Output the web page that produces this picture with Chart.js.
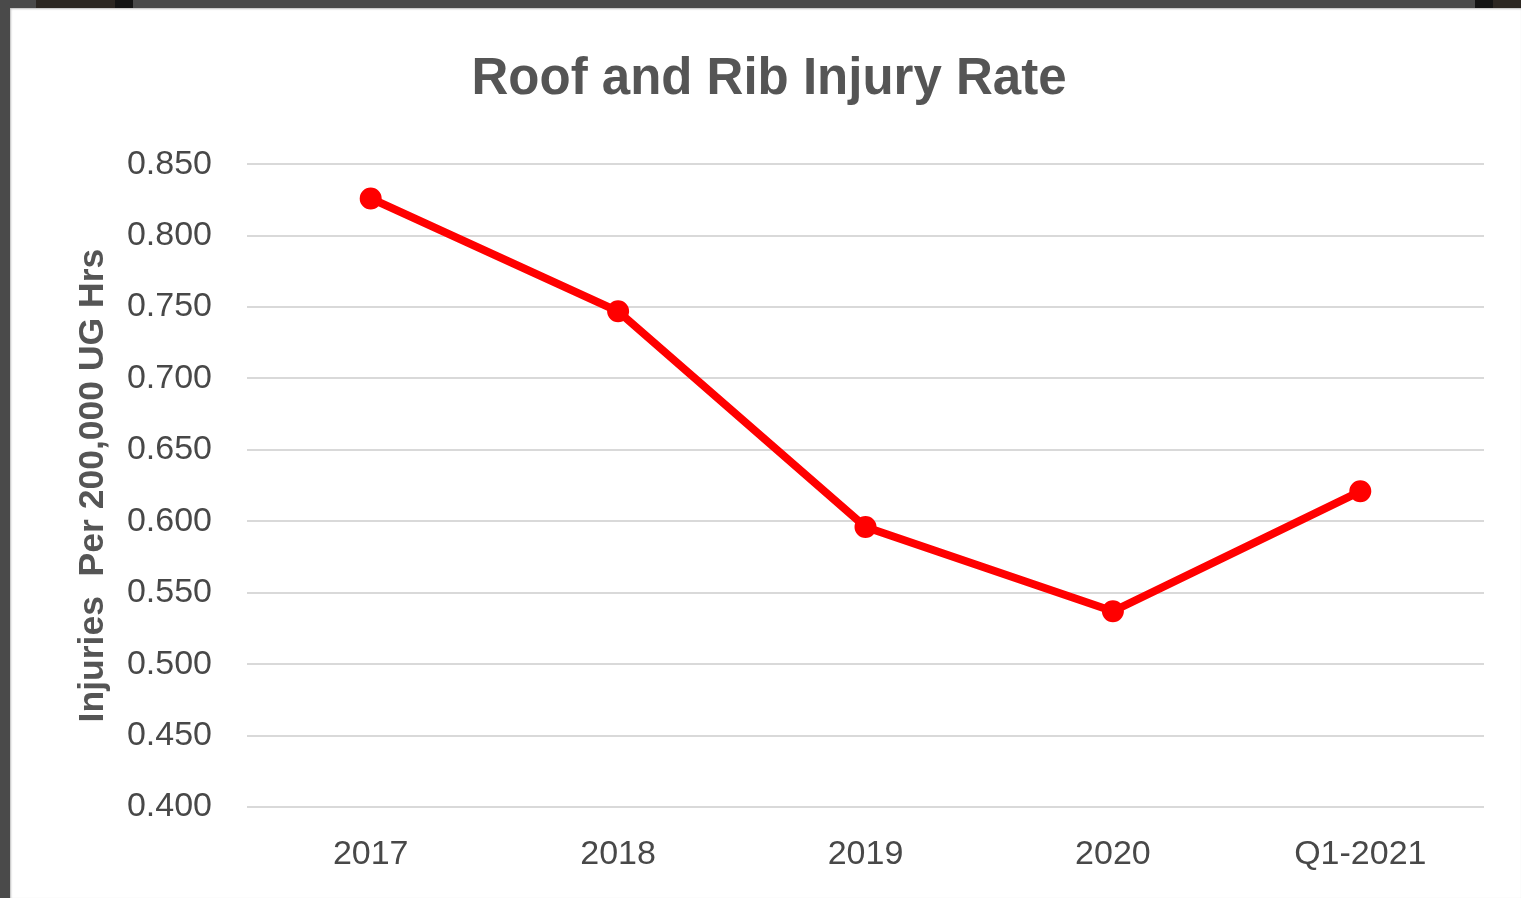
<!DOCTYPE html>
<html>
<head>
	<meta charset="utf-8">
	<script src="https://cdn.jsdelivr.net/npm/chart.js@4.4.1/dist/chart.umd.min.js"></script>
	<style>
		body{margin:0;width:1521px;height:898px;overflow:hidden;background-color:#4a4a4a;position:relative;}
		#frameA{position:absolute;left:36px;top:0;width:80px;height:8px;background-color:#2c2722;}
		#frameB{position:absolute;left:115px;top:0;width:18px;height:8px;background-color:#141414;}
		#frameC{position:absolute;left:1475px;top:0;width:18px;height:8px;background-color:#141414;}
		#frameD{position:absolute;left:1493px;top:0;width:28px;height:8px;background-color:#2c2722;}
		#paper{position:absolute;left:10px;top:8px;width:1511px;height:890px;background-color:#fff;box-shadow:inset 1px 1px 2px #bbb;}
	</style>
</head>
<body>
	<div id="frameA"></div>
	<div id="frameB"></div>
	<div id="frameC"></div>
	<div id="frameD"></div>
	<div id="paper">
		<canvas id="lineChart" width="1511" height="890"></canvas>
	</div>
<script>
	var years = ["2017","2018","2019","2020","Q1-2021"];
	var injuryRate = [0.826,0.747,0.596,0.537,0.621];
	var yMin = 0.4;
	var yMax = 0.85;
	var yStep = 0.05;

	var fontName = "'Liberation Sans', Arial, sans-serif";
	var textColor = "#555555";
	var tickColor = "#484848";
	var gridColor = "#d9d9d9";

	var target = document.querySelector("#lineChart").getContext("2d");
	var lineChart = new Chart(target,{
		type : "line",
		data : {
			labels:years,
			datasets:[{
				label:"Roof and Rib Injury Rate",
				data:injuryRate,
				borderColor:"#ff0000",
				backgroundColor:"#ff0000",
				borderWidth:8,
				pointRadius:10,
				pointBorderWidth:2,
				pointBackgroundColor:"#ff0000",
				pointBorderColor:"#ff0000",
				tension:0,
				fill:false
			}]
		},
		options : {
			responsive:false,
			animation:false,
			layout:{padding:{left:44,right:37,top:0,bottom:0}},
			plugins:{
				legend:{display:false},
				tooltip:{enabled:false},
				title:{
					display:true,
					text:"Roof and Rib Injury Rate",
					color:textColor,
					font:{family:fontName,size:51,weight:"bold",lineHeight:1.2},
					padding:{top:41,bottom:54}
				}
			},
			scales:{
				x:{
					offset:true,
					grid:{display:false,drawTicks:false},
					border:{display:false},
					ticks:{color:tickColor,padding:27,font:{family:fontName,size:34}},
					afterFit:function(scale){scale.height = 91;}
				},
				y:{
					min:yMin,
					max:yMax,
					grid:{color:gridColor,lineWidth:2,drawTicks:false},
					border:{display:false},
					ticks:{
						stepSize:yStep,
						color:tickColor,
						padding:35,
						font:{family:fontName,size:34},
						callback:function(v){return v.toFixed(3);}
					},
					title:{
						display:true,
						text:"Injuries  Per 200,000 UG Hrs",
						color:textColor,
						font:{family:fontName,size:35.5,weight:"bold",lineHeight:1.2},
						padding:{top:18,bottom:0}
					},
					afterFit:function(scale){scale.width = 193;}
				}
			}
		}
	});
</script>
</body>
</html>
